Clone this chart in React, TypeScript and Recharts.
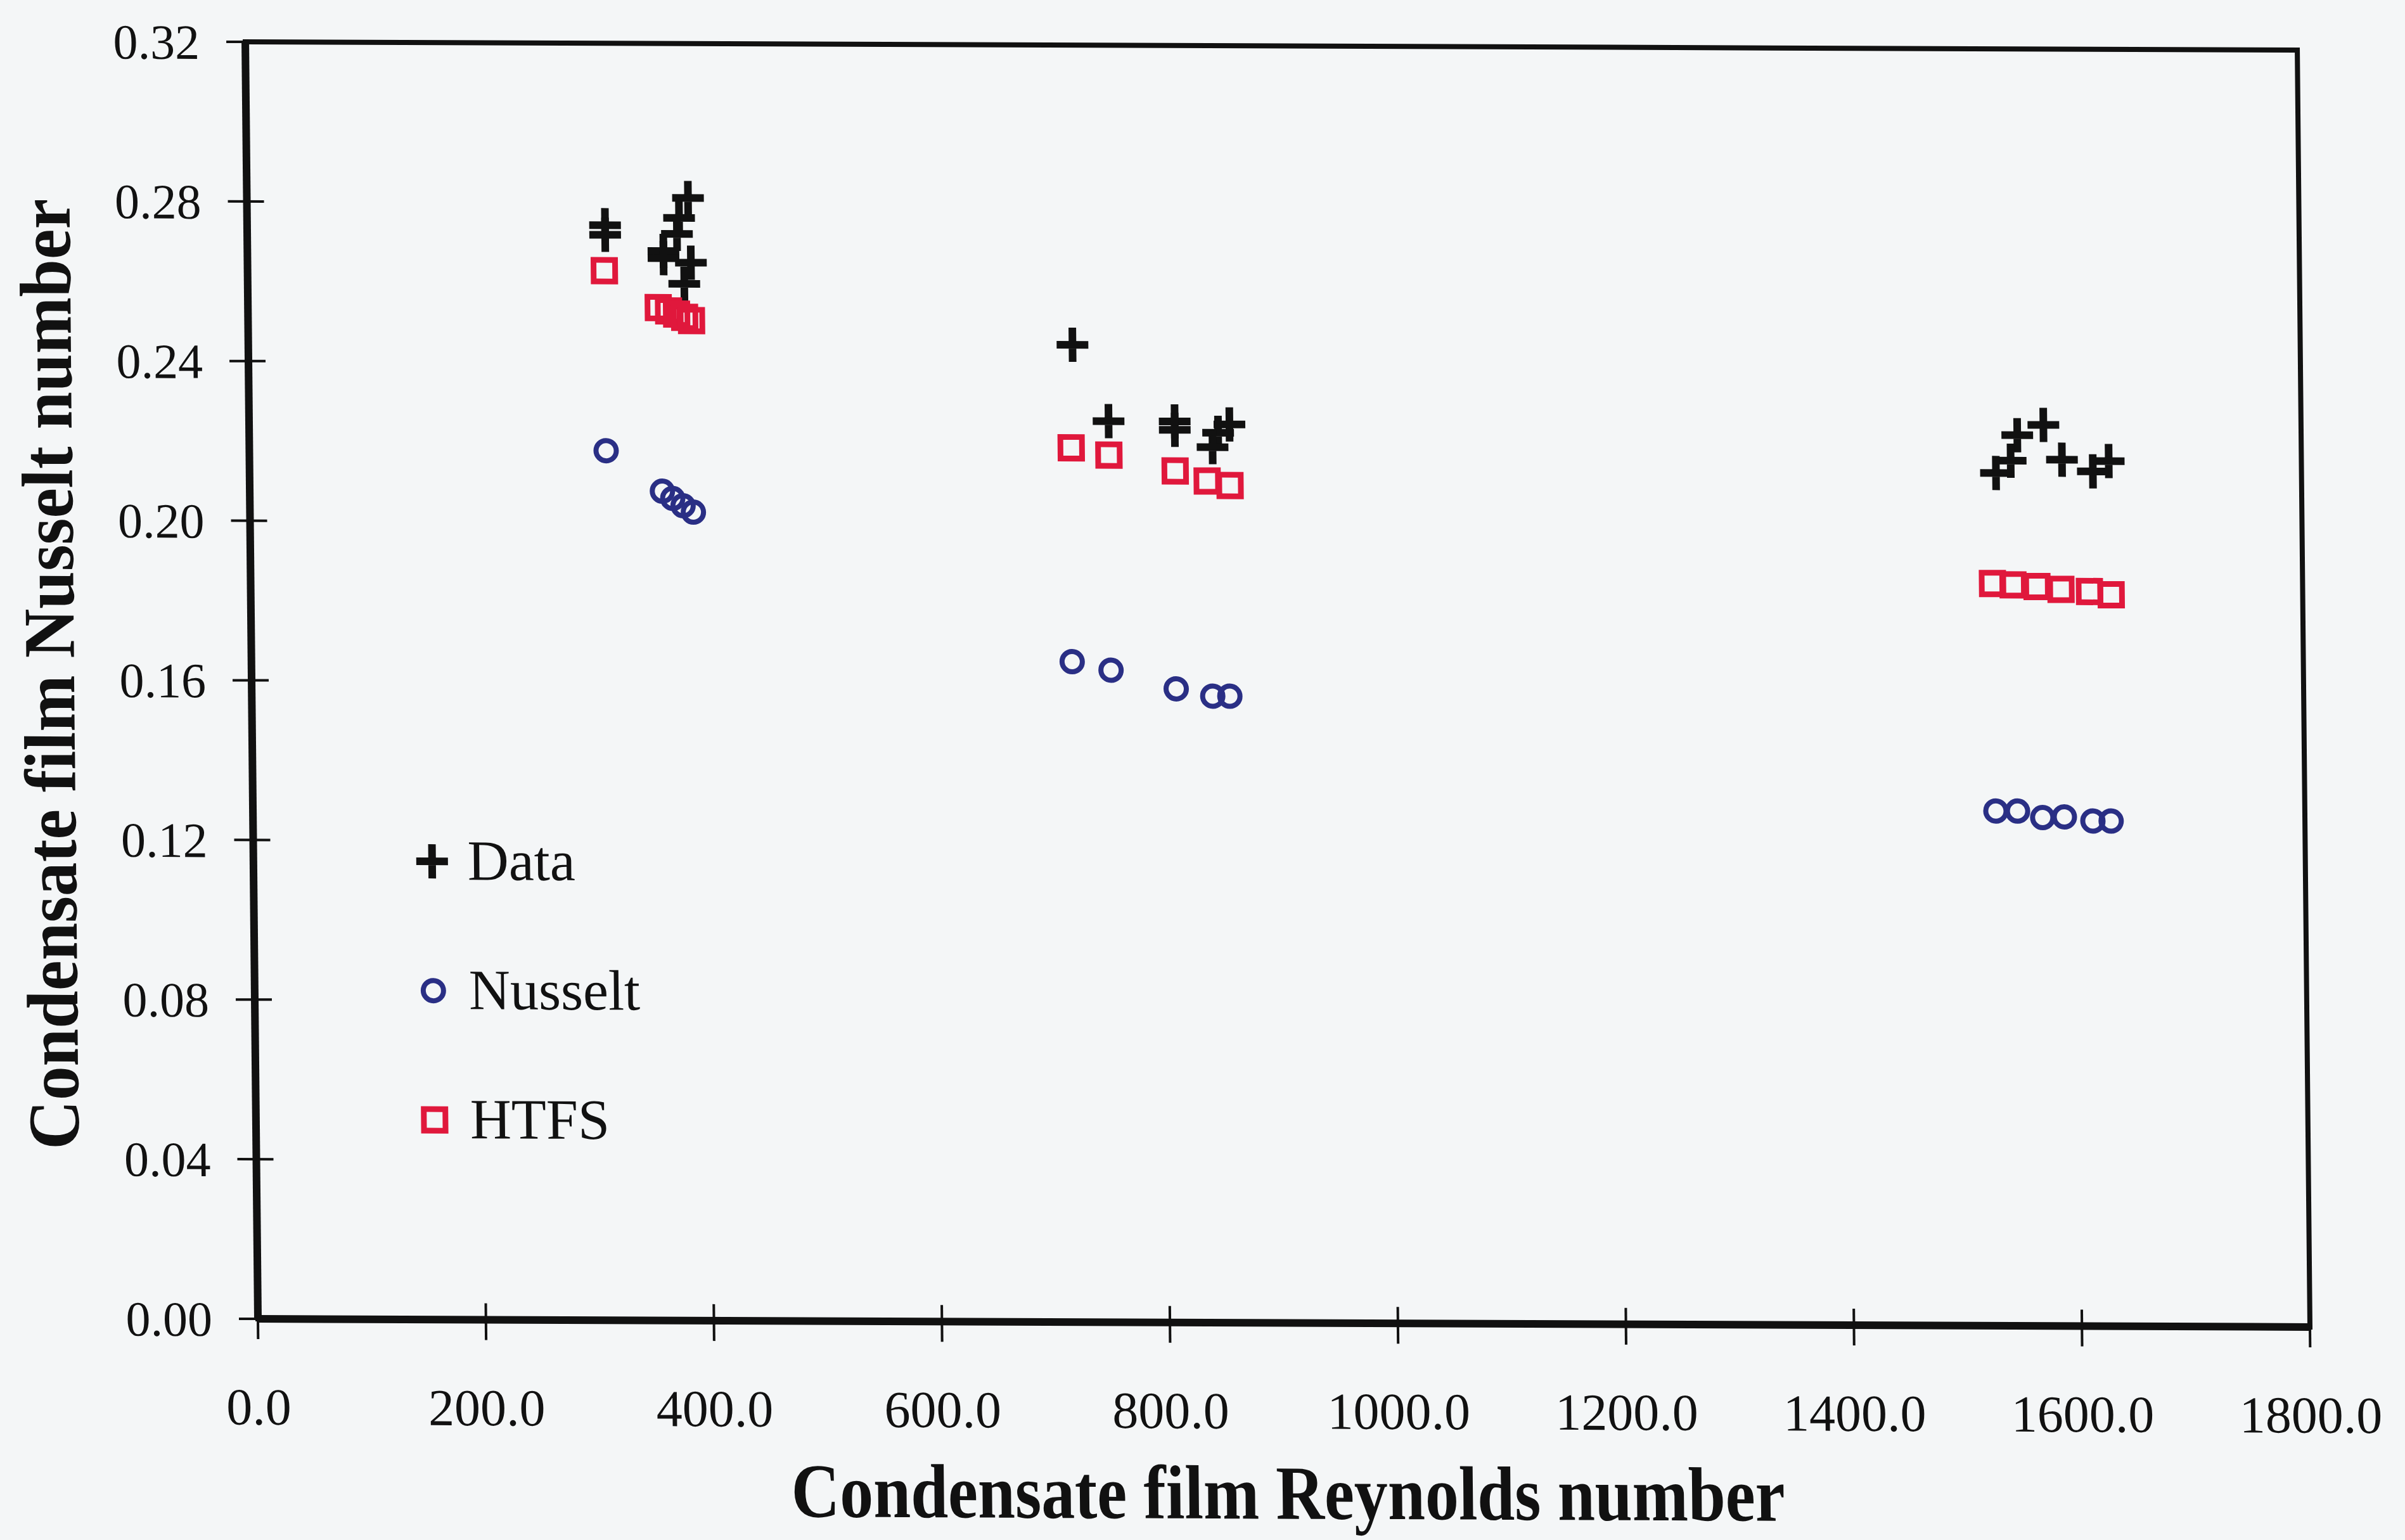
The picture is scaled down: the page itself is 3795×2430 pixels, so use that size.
import React from 'react';
import { ScatterChart, Scatter, XAxis, YAxis, ReferenceArea, Legend } from 'recharts';

// ---- data ----
const dataRe = [314, 314, 387, 379, 377, 365, 365, 389, 383, 723, 754, 812, 812, 860, 850, 845, 1551, 1574, 1545, 1532, 1590, 1631, 1617];
const dataNu = [0.2744, 0.2720, 0.2813, 0.2763, 0.2723, 0.2680, 0.2662, 0.2651, 0.2598, 0.2449, 0.2258, 0.2258, 0.2237, 0.2251, 0.2230, 0.2194, 0.2232, 0.2258, 0.2168, 0.2137, 0.2171, 0.2168, 0.2142];

const nusseltRe = [313, 362, 371, 380, 389, 720, 754, 811, 843, 858, 1529, 1548, 1570, 1589, 1614, 1630];
const nusseltNu = [0.2179, 0.2078, 0.2060, 0.2042, 0.2026, 0.1655, 0.1634, 0.1588, 0.1570, 0.1570, 0.1290, 0.1290, 0.1274, 0.1276, 0.1266, 0.1266];

const htfsRe = [313, 360, 369, 376, 383, 389, 721, 754, 812, 840, 860, 1528, 1546, 1567, 1588, 1613, 1632];
const htfsNu = [0.2630, 0.2538, 0.2530, 0.2522, 0.2514, 0.2506, 0.2191, 0.2173, 0.2134, 0.2109, 0.2098, 0.1860, 0.1857, 0.1853, 0.1846, 0.1841, 0.1833];

const xTicks = [0, 200, 400, 600, 800, 1000, 1200, 1400, 1600, 1800];
const yTicks = [0, 0.04, 0.08, 0.12, 0.16, 0.2, 0.24, 0.28, 0.32];

const seriesNames = ['Data', 'Nusselt', 'HTFS'];
const xTitle = 'Condensate film Reynolds number';
const yTitle = 'Condensate film Nusselt number';

// ---- styling / layout ----
const W = 3795;
const H = 2430;
const PLOT_LEFT = 407;
const PLOT_RIGHT = 3645;
const PLOT_TOP = 66;
const PLOT_BOTTOM = 2081;
const BLACK = '#111111';
const BLUE = '#2a2f85';
const RED = '#e0183c';
const BG = '#f4f6f7';
const FONT = '"Liberation Serif", "Times New Roman", serif';

const toPoints = (xs: number[], ys: number[]) => xs.map((x, i) => ({ re: x, nu: ys[i] }));
const dataPts = toPoints(dataRe, dataNu);
const nusseltPts = toPoints(nusseltRe, nusseltNu);
const htfsPts = toPoints(htfsRe, htfsNu);

const CrossMark = ({ cx, cy }: any) => (
  <path d={`M${cx - 25},${cy}H${cx + 25}M${cx},${cy - 27}V${cy + 27}`} stroke={BLACK} strokeWidth={12} fill="none" />
);
const CircleMark = ({ cx, cy }: any) => (
  <circle cx={cx} cy={cy} r={16} stroke={BLUE} strokeWidth={8} fill="none" />
);
const SquareMark = ({ cx, cy }: any) => (
  <rect x={cx - 17} y={cy - 17} width={34} height={34} stroke={RED} strokeWidth={9} fill="none" />
);
const markers = [CrossMark, CircleMark, SquareMark];

const YTick = (props: any) => {
  const { y, payload } = props;
  return (
    <g>
      <line x1={PLOT_LEFT - 30} x2={PLOT_LEFT + 27} y1={y} y2={y} stroke={BLACK} strokeWidth={4} />
      <text x={PLOT_LEFT - 72} y={y} dy="0.35em" textAnchor="end" fontFamily={FONT} fontSize={78} fill={BLACK}>
        {Number(payload.value).toFixed(2)}
      </text>
    </g>
  );
};

const XTick = (props: any) => {
  const { x, payload } = props;
  return (
    <g>
      <line x1={x} x2={x} y1={PLOT_BOTTOM - 26} y2={PLOT_BOTTOM + 32} stroke={BLACK} strokeWidth={4} />
      <text x={x} y={2219} dy="0.35em" textAnchor="middle" fontFamily={FONT} fontSize={82} fill={BLACK}>
        {Number(payload.value).toFixed(1)}
      </text>
    </g>
  );
};

const XTitle = () => (
  <text
    x={(PLOT_LEFT + PLOT_RIGHT) / 2 + 4}
    y={2390}
    textAnchor="middle"
    fontFamily={FONT}
    fontWeight="bold"
    fontSize={121}
    fill={BLACK}
    textLength={1568}
    lengthAdjust="spacingAndGlyphs"
  >
    {xTitle}
  </text>
);

const YTitle = () => (
  <text
    x={127}
    y={1065}
    transform="rotate(-90, 127, 1065)"
    textAnchor="middle"
    fontFamily={FONT}
    fontWeight="bold"
    fontSize={115}
    fill={BLACK}
    textLength={1500}
    lengthAdjust="spacingAndGlyphs"
  >
    {yTitle}
  </text>
);

const renderLegend = () => (
  <svg width={W} height={H} style={{ position: 'absolute', left: 0, top: 0, overflow: 'visible', pointerEvents: 'none' }}>
    {seriesNames.map((name: string, i: number) => {
      const Mark = markers[i];
      const base = 1387 + i * 204;
      return (
        <g key={name}>
          <Mark cx={689} cy={base - 29} />
          <text x={745} y={base} fontFamily={FONT} fontSize={90} fill={BLACK}>
            {name}
          </text>
        </g>
      );
    })}
  </svg>
);

export default function App() {
  return (
    <div style={{ position: 'absolute', left: 0, top: 0, width: W, height: H, background: BG, overflow: 'hidden' }}>
      <div style={{ width: W, height: H, transform: 'matrix(1, 0.004, 0.0099, 1, 0, 0)', transformOrigin: `${PLOT_LEFT}px ${PLOT_BOTTOM}px` }}>
        <ScatterChart
          width={W}
          height={H}
          margin={{ top: PLOT_TOP, right: W - PLOT_RIGHT, bottom: 0, left: 0 }}
        >
          <ReferenceArea
            x1={0}
            x2={1800}
            y1={0}
            y2={0.32}
            fill="none"
            stroke={BLACK}
            strokeWidth={8}
            ifOverflow="visible"
          />
          <XAxis
            type="number"
            dataKey="re"
            domain={[0, 1800]}
            ticks={xTicks}
            interval={0}
            height={H - PLOT_BOTTOM}
            tickLine={false}
            axisLine={{ stroke: BLACK, strokeWidth: 12 }}
            tick={(p: any) => <XTick {...p} />}
            label={{ content: () => <XTitle /> }}
            allowDataOverflow
          />
          <YAxis
            type="number"
            dataKey="nu"
            domain={[0, 0.32]}
            ticks={yTicks}
            interval={0}
            width={PLOT_LEFT}
            tickLine={false}
            axisLine={{ stroke: BLACK, strokeWidth: 12 }}
            tick={(p: any) => <YTick {...p} />}
            label={{ content: () => <YTitle /> }}
            allowDataOverflow
          />
          <Legend
            layout="vertical"
            align="center"
            verticalAlign="middle"
            content={renderLegend}
            wrapperStyle={{ position: 'absolute', left: 0, top: 0, width: 0, height: 0, margin: 0 }}
          />
          <Scatter name={seriesNames[0]} data={dataPts} shape={CrossMark} isAnimationActive={false} />
          <Scatter name={seriesNames[1]} data={nusseltPts} shape={CircleMark} isAnimationActive={false} />
          <Scatter name={seriesNames[2]} data={htfsPts} shape={SquareMark} isAnimationActive={false} />
        </ScatterChart>
      </div>
    </div>
  );
}
